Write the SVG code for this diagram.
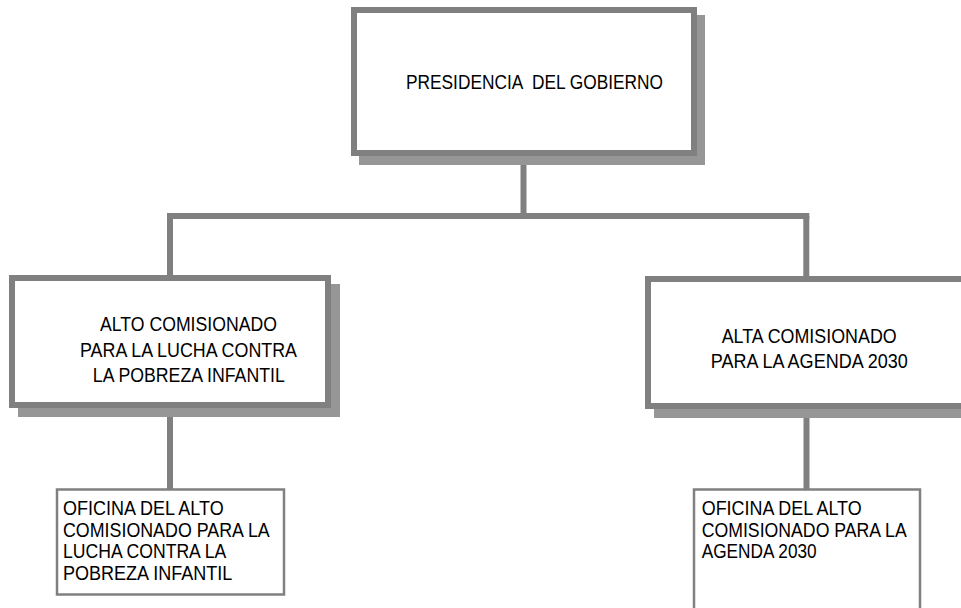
<svg xmlns="http://www.w3.org/2000/svg" width="961" height="608" viewBox="0 0 961 608">
<style>
.shadow{fill:#969696}
.box{fill:#fff;stroke:#808080;stroke-width:6}
.sub{fill:#fff;stroke:#808080;stroke-width:2.5}
.conn{stroke:#808080;stroke-width:6;fill:none}
text{font-family:"Liberation Sans",Arial,sans-serif;font-size:20px;fill:#000;white-space:pre}
.sm{font-size:19.5px}
.mid{text-anchor:middle}
</style>
<rect width="961" height="608" fill="#fff"/>
<g id="connectors">
<path class="conn" d="M523.5,156 V216"/>
<path class="conn" d="M170,216 H809.3"/>
<path class="conn" d="M170,213 V276"/>
<path class="conn" d="M806.3,216 V277"/>
<path class="conn" d="M170,408 V489"/>
<path class="conn" d="M806.5,409 V489"/>
</g>
<g id="presidencia">
<rect class="shadow" x="359" y="15" width="346" height="150"/>
<rect class="box" x="354" y="10" width="340" height="143"/>
<text x="406" y="89" textLength="257" lengthAdjust="spacingAndGlyphs">PRESIDENCIA  DEL GOBIERNO</text>
</g>
<g id="alto-comisionado-pobreza">
<rect class="shadow" x="18" y="284" width="322" height="133"/>
<rect class="box" x="12" y="278" width="316" height="127"/>
<text class="mid" x="188.5" y="331" textLength="177" lengthAdjust="spacingAndGlyphs">ALTO COMISIONADO</text>
<text class="mid" x="188.5" y="356.5" textLength="217" lengthAdjust="spacingAndGlyphs">PARA LA LUCHA CONTRA</text>
<text class="mid" x="188.8" y="381.5" textLength="192" lengthAdjust="spacingAndGlyphs">LA POBREZA INFANTIL</text>
</g>
<g id="alta-comisionado-agenda">
<rect class="shadow" x="654" y="285" width="330" height="133"/>
<rect class="box" x="648" y="279" width="330" height="127"/>
<text class="mid" x="809.2" y="343.3" textLength="175" lengthAdjust="spacingAndGlyphs">ALTA COMISIONADO</text>
<text class="mid" x="809.3" y="368.3" textLength="197" lengthAdjust="spacingAndGlyphs">PARA LA AGENDA 2030</text>
</g>
<g id="oficina-pobreza">
<rect class="sub" x="57" y="489.5" width="227" height="105"/>
<text class="sm" x="63" y="515" textLength="160.7" lengthAdjust="spacingAndGlyphs">OFICINA DEL ALTO</text>
<text class="sm" x="63" y="536.7" textLength="206.7" lengthAdjust="spacingAndGlyphs">COMISIONADO PARA LA</text>
<text class="sm" x="63" y="558.3" textLength="163.3" lengthAdjust="spacingAndGlyphs">LUCHA CONTRA LA</text>
<text class="sm" x="63" y="580" textLength="169.3" lengthAdjust="spacingAndGlyphs">POBREZA INFANTIL</text>
</g>
<g id="oficina-agenda">
<rect class="sub" x="694" y="489.5" width="226" height="130"/>
<text class="sm" x="701.7" y="515" textLength="160" lengthAdjust="spacingAndGlyphs">OFICINA DEL ALTO</text>
<text class="sm" x="701.7" y="536.7" textLength="205" lengthAdjust="spacingAndGlyphs">COMISIONADO PARA LA</text>
<text class="sm" x="701.7" y="558.3" textLength="115" lengthAdjust="spacingAndGlyphs">AGENDA 2030</text>
</g>
</svg>
